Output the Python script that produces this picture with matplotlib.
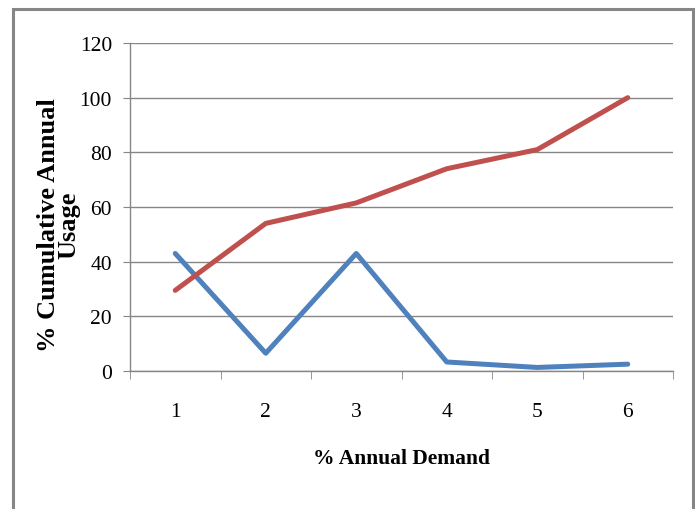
import numpy as np
import matplotlib
matplotlib.use("Agg")
import matplotlib.pyplot as plt
from matplotlib.patches import Rectangle

# data
categories = [1, 2, 3, 4, 5, 6]
cumulative_usage = [29.5, 54, 61.5, 74, 81, 100]
annual_demand = [43, 6.5, 43, 3.3, 1.3, 2.5]
y_ticks = [0, 20, 40, 60, 80, 100, 120]

plt.rcParams['font.family'] = ['Liberation Serif', 'DejaVu Serif']
grey = '#868686'

fig = plt.figure(figsize=(6.95, 5.10), dpi=100)
ax = fig.add_axes([130 / 695, 1 - 372 / 510, 543 / 695, 328 / 510])

# chart border
fig.patches.append(Rectangle((13 / 695, -0.1), 680 / 695, 1.1 - 10 / 510,
                             transform=fig.transFigure, fill=False,
                             edgecolor=grey, linewidth=2.2))

ax.plot(categories, annual_demand, color='#4F81BD', linewidth=3.6,
        solid_capstyle='round', zorder=3)
ax.plot(categories, cumulative_usage, color='#C0504D', linewidth=3.6,
        solid_capstyle='round', zorder=3)

ax.set_xlim(0.5, 6.5)
ax.set_ylim(0, 120)
ax.set_yticks(y_ticks)
ax.set_yticklabels([str(t) for t in y_ticks], fontsize=15.5)
ax.set_xticks(categories)
ax.set_xticklabels([str(c) for c in categories], fontsize=15.5)
ax.set_xticks(np.arange(0.5, 7, 1), minor=True)
ax.tick_params(axis='x', which='major', length=0, pad=22)
ax.tick_params(axis='x', which='minor', length=6, color=grey, direction='out')
ax.tick_params(axis='y', length=5, color=grey, pad=8)

ax.grid(True, axis='y', color=grey, linewidth=1)
ax.set_axisbelow(True)
for side in ['top', 'right']:
    ax.spines[side].set_visible(False)
for side in ['left', 'bottom']:
    ax.spines[side].set_color(grey)
    ax.spines[side].set_linewidth(1)

ax.set_xlabel('% Annual Demand', fontsize=15.5, fontweight='bold',
              labelpad=20)
fig.text(59 / 695, 1 - 225 / 510, '% Cumulative Annual\nUsage', rotation=90,
         ha='center', va='center', fontsize=19, fontweight='bold',
         linespacing=0.85)

fig.savefig('out.png', dpi=100)
